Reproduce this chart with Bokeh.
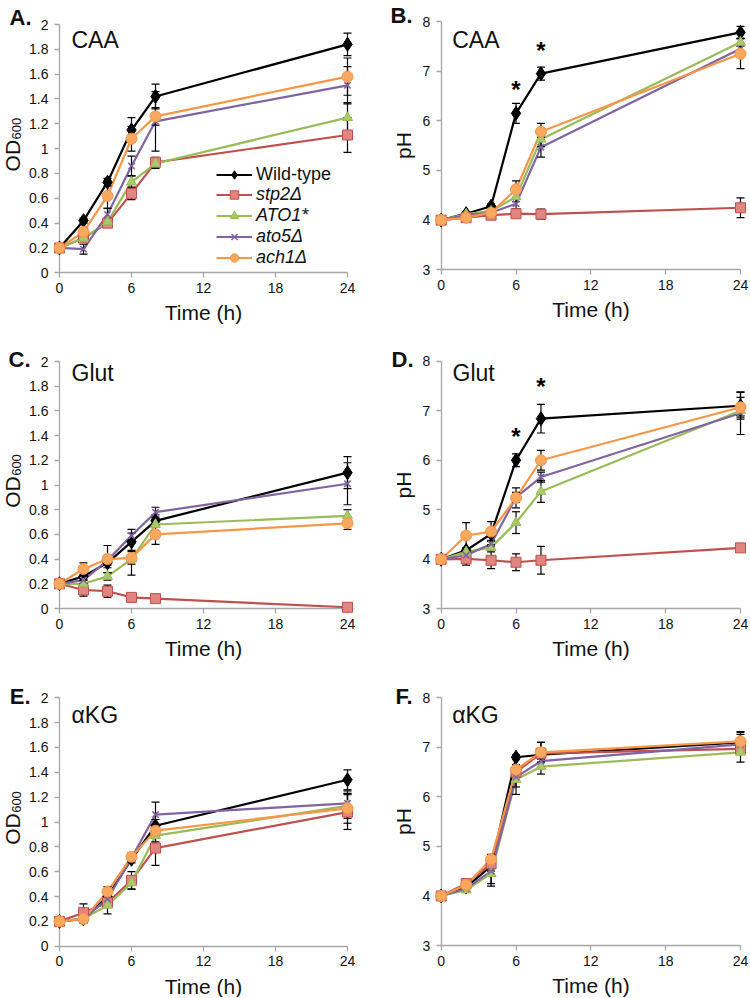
import math
from bokeh.plotting import figure
from bokeh.models import (Range1d, FixedTicker, NumeralTickFormatter, Legend,
                          LegendItem, Label)
from bokeh.layouts import row, column
from bokeh.embed import file_html
from bokeh.resources import INLINE
from bokeh.core.properties import value

FONT = "Liberation Sans"

# ---------------- data ----------------
times = [0, 2, 4, 6, 8, 24]
strains = ["Wild-type", "stp2Δ", "ATO1*", "ato5Δ", "ach1Δ"]
x_ticks = [0, 6, 12, 18, 24]
od_ticks = [0, 0.2, 0.4, 0.6, 0.8, 1, 1.2, 1.4, 1.6, 1.8, 2]
ph_ticks = [3, 4, 5, 6, 7, 8]

# A. CAA, OD600
caa_od_wt = [0.20, 0.42, 0.73, 1.15, 1.42, 1.84]
caa_od_stp2 = [0.20, 0.28, 0.40, 0.64, 0.89, 1.11]
caa_od_ato1 = [0.20, 0.28, 0.41, 0.73, 0.88, 1.25]
caa_od_ato5 = [0.20, 0.19, 0.47, 0.86, 1.22, 1.51]
caa_od_ach1 = [0.20, 0.33, 0.62, 1.08, 1.26, 1.58]
caa_od_wt_err = [0.01, 0.02, 0.03, 0.10, 0.10, 0.09]
caa_od_stp2_err = [0.01, 0.02, 0.03, 0.05, 0.04, 0.14]
caa_od_ato1_err = [0.01, 0.02, 0.03, 0.05, 0.04, 0.12]
caa_od_ato5_err = [0.01, 0.04, 0.05, 0.08, 0.24, 0.15]
caa_od_ach1_err = [0.01, 0.03, 0.10, 0.10, 0.07, 0.15]

# B. CAA, pH
caa_ph_wt = [4.00, 4.13, 4.28, 6.15, 6.95, 7.78]
caa_ph_stp2 = [4.00, 4.05, 4.10, 4.13, 4.12, 4.25]
caa_ph_ato1 = [4.00, 4.12, 4.18, 4.47, 5.63, 7.58]
caa_ph_ato5 = [4.00, 4.10, 4.15, 4.33, 5.47, 7.45]
caa_ph_ach1 = [4.00, 4.05, 4.15, 4.62, 5.78, 7.35]
caa_ph_wt_err = [0.02, 0.03, 0.05, 0.20, 0.13, 0.12]
caa_ph_stp2_err = [0.02, 0.03, 0.04, 0.05, 0.10, 0.20]
caa_ph_ato1_err = [0.02, 0.03, 0.04, 0.10, 0.15, 0.08]
caa_ph_ato5_err = [0.02, 0.03, 0.04, 0.10, 0.20, 0.10]
caa_ph_ach1_err = [0.02, 0.03, 0.04, 0.17, 0.17, 0.30]
caa_star_x = [6, 8]
caa_star_y = [6.75, 7.54]

# C. Glut, OD600
glut_od_wt = [0.20, 0.26, 0.37, 0.54, 0.71, 1.10]
glut_od_stp2 = [0.20, 0.15, 0.14, 0.09, 0.08, 0.01]
glut_od_ato1 = [0.20, 0.20, 0.26, 0.40, 0.68, 0.75]
glut_od_ato5 = [0.20, 0.23, 0.39, 0.59, 0.78, 1.01]
glut_od_ach1 = [0.20, 0.32, 0.40, 0.41, 0.60, 0.69]
glut_od_wt_err = [0.01, 0.03, 0.04, 0.07, 0.05, 0.13]
glut_od_stp2_err = [0.01, 0.05, 0.05, 0.02, 0.02, 0.01]
glut_od_ato1_err = [0.01, 0.03, 0.03, 0.13, 0.05, 0.05]
glut_od_ato5_err = [0.01, 0.03, 0.04, 0.05, 0.04, 0.17]
glut_od_ach1_err = [0.01, 0.05, 0.11, 0.05, 0.08, 0.05]

# D. Glut, pH
glut_ph_wt = [4.00, 4.18, 4.51, 6.00, 6.84, 7.10]
glut_ph_stp2 = [4.00, 4.01, 3.98, 3.94, 3.98, 4.23]
glut_ph_ato1 = [4.00, 4.15, 4.24, 4.74, 5.37, 7.00]
glut_ph_ato5 = [4.00, 4.08, 4.31, 5.25, 5.66, 6.95]
glut_ph_ach1 = [4.00, 4.48, 4.56, 5.24, 6.00, 7.07]
glut_ph_wt_err = [0.02, 0.05, 0.13, 0.13, 0.29, 0.27]
glut_ph_stp2_err = [0.02, 0.13, 0.17, 0.17, 0.28, 0.03]
glut_ph_ato1_err = [0.02, 0.05, 0.05, 0.22, 0.22, 0.10]
glut_ph_ato5_err = [0.02, 0.05, 0.05, 0.10, 0.10, 0.43]
glut_ph_ach1_err = [0.02, 0.26, 0.20, 0.20, 0.20, 0.20]
glut_star_x = [6, 8]
glut_star_y = [6.60, 7.61]

# E. aKG, OD600
akg_od_wt = [0.20, 0.22, 0.40, 0.70, 0.97, 1.34]
akg_od_stp2 = [0.20, 0.27, 0.35, 0.53, 0.79, 1.08]
akg_od_ato1 = [0.20, 0.22, 0.33, 0.51, 0.89, 1.13]
akg_od_ato5 = [0.20, 0.22, 0.38, 0.71, 1.06, 1.15]
akg_od_ach1 = [0.20, 0.22, 0.44, 0.72, 0.93, 1.11]
akg_od_wt_err = [0.01, 0.03, 0.06, 0.03, 0.05, 0.08]
akg_od_stp2_err = [0.01, 0.07, 0.03, 0.07, 0.14, 0.14]
akg_od_ato1_err = [0.01, 0.03, 0.07, 0.05, 0.05, 0.10]
akg_od_ato5_err = [0.01, 0.03, 0.04, 0.03, 0.10, 0.10]
akg_od_ach1_err = [0.01, 0.03, 0.04, 0.03, 0.05, 0.12]

# F. aKG, pH
akg_ph_wt = [4.00, 4.18, 4.60, 6.80, 6.85, 7.10]
akg_ph_stp2 = [4.00, 4.25, 4.65, 6.50, 6.88, 6.97]
akg_ph_ato1 = [4.00, 4.12, 4.45, 6.35, 6.61, 6.90]
akg_ph_ato5 = [4.00, 4.15, 4.50, 6.40, 6.72, 7.06]
akg_ph_ach1 = [4.00, 4.22, 4.74, 6.55, 6.90, 7.12]
akg_ph_wt_err = [0.03, 0.05, 0.10, 0.05, 0.25, 0.20]
akg_ph_stp2_err = [0.03, 0.05, 0.10, 0.10, 0.10, 0.10]
akg_ph_ato1_err = [0.03, 0.05, 0.25, 0.30, 0.15, 0.20]
akg_ph_ato5_err = [0.03, 0.05, 0.25, 0.20, 0.15, 0.20]
akg_ph_ach1_err = [0.03, 0.05, 0.10, 0.10, 0.20, 0.20]

# ---------------- styles / layout ----------------
STYLES = [
    dict(color="#000000", marker="diamond", fill="#000000", size=14),
    dict(color="#C0504D", marker="square", fill="#E0857F", size=10),
    dict(color="#9BBB59", marker="triangle", fill="#A9C96B", size=10),
    dict(color="#8064A2", marker="x", fill=None, size=9),
    dict(color="#F79646", marker="circle", fill="#F9A85F", size=11),
]
AXIS_GREY = "#A6A6A6"
TXT = "#111111"

# figure boxes on the page: (left, top, width, height)
FIG_BOX = {
    "A": (0, 0, 375, 330), "B": (375, 0, 375, 330),
    "C": (0, 330, 375, 330), "D": (375, 330, 375, 330),
    "E": (0, 660, 375, 337), "F": (375, 660, 375, 337),
}
# plot area in page pixels: (x of t=0, x of t=24, y of top value, y of bottom value)
PLOT_PX = {
    "A": (59, 347, 24, 272.3), "B": (440.7, 740, 21, 269.3),
    "C": (59, 347, 361, 608), "D": (440.7, 740, 360.7, 608.3),
    "E": (59, 347, 697.3, 945.7), "F": (440.7, 740, 697.3, 945),
}
# text anchors on the page
LETTER_XY = {"A": (31, 17), "B": (412, 15), "C": (30, 358.5), "D": (413, 359),
             "E": (30, 696), "F": (412, 696)}
TITLE_XY = {"A": (71, 39.5), "B": (451.7, 39), "C": (71, 372.5), "D": (452, 372.5),
            "E": (71, 714.5), "F": (451.7, 714.5)}


def make_panel(key, title, kind, series, errs, stars=None, legend=False):
    fl, ft, W, H = FIG_BOX[key]
    px0, px24, pytop, pybot = PLOT_PX[key]
    y0, y1 = (0, 2) if kind == "od" else (3, 8)
    # frame = whole canvas; ranges chosen so the axes sit where they do in the original
    sx = (px24 - px0) / 24.0
    sy = (pybot - pytop) / (y1 - y0)
    cx0, cyt, cyb = px0 - fl, pytop - ft, pybot - ft
    x_start, x_end = -cx0 / sx, (W - cx0) / sx
    y_end, y_start = y1 + cyt / sy, y0 - (H - cyb) / sy

    def to_data(px, py):
        return (px - fl - cx0) / sx, y1 - (py - ft - cyt) / sy

    p = figure(width=W, height=H,
               x_range=Range1d(x_start, x_end), y_range=Range1d(y_start, y_end),
               output_backend="svg", toolbar_location=None,
               min_border=0, min_border_left=0, min_border_right=0,
               min_border_top=0, min_border_bottom=0,
               outline_line_color=None, background_fill_color="white",
               border_fill_color="white")
    p.xgrid.visible = False
    p.ygrid.visible = False

    for ax in (p.xaxis[0], p.yaxis[0]):
        ax.level = "underlay"
        ax.axis_line_color = AXIS_GREY
        ax.axis_line_width = 1.3
        ax.major_tick_line_color = AXIS_GREY
        ax.major_tick_line_width = 1.3
        ax.major_tick_out = 5
        ax.major_tick_in = 0
        ax.minor_tick_line_color = None
        ax.major_label_text_font = FONT
        ax.major_label_text_font_size = "14px"
        ax.major_label_text_color = TXT
        ax.axis_label_text_font = FONT
        ax.axis_label_text_font_size = "21px"
        ax.axis_label_text_font_style = "normal"
        ax.axis_label_text_color = TXT

    xa = p.xaxis[0]
    xa.fixed_location = y0
    xa.ticker = FixedTicker(ticks=x_ticks)
    xa.bounds = (0, 24)
    xa.major_label_standoff = 5
    xa.axis_label = "Time (h)"
    xa.axis_label_standoff = 5

    ya = p.yaxis[0]
    ya.fixed_location = 0
    ya.bounds = (y0, y1)
    ya.major_label_standoff = 6
    if kind == "od":
        ya.ticker = FixedTicker(ticks=od_ticks)
        ya.formatter = NumeralTickFormatter(format="0.[0]")
    else:
        ya.ticker = FixedTicker(ticks=ph_ticks)
        ya.axis_label = "pH"
        ya.axis_label_standoff = 5

    line_rs, mark_rs = [], []
    for vals, st in zip(series, STYLES):
        lr = p.line(times, vals, line_color=st["color"], line_width=2.2)
        line_rs.append(lr)

    # error bars (black, as in the original)
    for vals, err in zip(series, errs):
        lo = [v - e for v, e in zip(vals, err)]
        hi = [v + e for v, e in zip(vals, err)]
        p.segment(x0=times, y0=lo, x1=times, y1=hi, line_color="black", line_width=1.2)
        p.scatter(x=times + times, y=lo + hi, marker="dash", size=8,
                  line_color="black", line_width=1.2)

    for vals, st in zip(series, STYLES):
        if st["fill"] is None:
            mr = p.scatter(times, vals, marker=st["marker"], size=st["size"],
                           line_color=st["color"], line_width=1.6)
        else:
            mr = p.scatter(times, vals, marker=st["marker"], size=st["size"],
                           fill_color=st["fill"], line_color=st["color"], line_width=1)
        mark_rs.append(mr)

    if stars is not None:
        p.text(x=stars[0], y=stars[1], text=["*"] * len(stars[0]),
               text_font=value(FONT), text_font_size="24px", text_font_style="bold",
               text_align="center", text_baseline="middle", y_offset=6, text_color="black")

    def label(px, py, text, **kw):
        x, y = to_data(px, py)
        p.add_layout(Label(x=x, y=y, text=text, text_font=FONT, text_color=TXT, **kw))

    tx, ty = TITLE_XY[key]
    label(tx, ty, title, text_font_size="23px", text_align="left", text_baseline="middle")
    lx, ly = LETTER_XY[key]
    label(lx, ly, key + ".", text_font_size="22px", text_font_style="bold",
          text_align="right", text_baseline="middle")
    if kind == "od":
        fmid = (pytop + pybot) / 2
        label(px0 - 47, fmid + 7, "OD", text_font_size="21px", angle=math.pi / 2,
              text_align="center", text_baseline="alphabetic")
        label(px0 - 43, fmid - 20, "600", text_font_size="13px", angle=math.pi / 2,
              text_align="center", text_baseline="alphabetic")

    if legend:
        common = dict(border_line_color=None, background_fill_alpha=0, padding=0, margin=0,
                      spacing=0, label_standoff=4, glyph_width=36, glyph_height=21,
                      label_height=21, label_text_font=FONT, label_text_font_size="18px",
                      label_text_color=TXT)
        # location: pixels from the left / bottom of the canvas
        lg1 = Legend(items=[LegendItem(label=strains[0], renderers=[line_rs[0], mark_rs[0]])],
                     location=(216 - fl, H - (184.5 - ft)), label_text_font_style="normal",
                     **common)
        lg2 = Legend(items=[LegendItem(label=strains[i], renderers=[line_rs[i], mark_rs[i]])
                            for i in range(1, 5)],
                     location=(216 - fl, H - (267.5 - ft)), label_text_font_style="italic",
                     **common)
        p.add_layout(lg1)
        p.add_layout(lg2)
    return p


pA = make_panel("A", "CAA", "od",
                [caa_od_wt, caa_od_stp2, caa_od_ato1, caa_od_ato5, caa_od_ach1],
                [caa_od_wt_err, caa_od_stp2_err, caa_od_ato1_err, caa_od_ato5_err, caa_od_ach1_err],
                legend=True)
pB = make_panel("B", "CAA", "ph",
                [caa_ph_wt, caa_ph_stp2, caa_ph_ato1, caa_ph_ato5, caa_ph_ach1],
                [caa_ph_wt_err, caa_ph_stp2_err, caa_ph_ato1_err, caa_ph_ato5_err, caa_ph_ach1_err],
                stars=(caa_star_x, caa_star_y))
pC = make_panel("C", "Glut", "od",
                [glut_od_wt, glut_od_stp2, glut_od_ato1, glut_od_ato5, glut_od_ach1],
                [glut_od_wt_err, glut_od_stp2_err, glut_od_ato1_err, glut_od_ato5_err, glut_od_ach1_err])
pD = make_panel("D", "Glut", "ph",
                [glut_ph_wt, glut_ph_stp2, glut_ph_ato1, glut_ph_ato5, glut_ph_ach1],
                [glut_ph_wt_err, glut_ph_stp2_err, glut_ph_ato1_err, glut_ph_ato5_err, glut_ph_ach1_err],
                stars=(glut_star_x, glut_star_y))
pE = make_panel("E", "αKG", "od",
                [akg_od_wt, akg_od_stp2, akg_od_ato1, akg_od_ato5, akg_od_ach1],
                [akg_od_wt_err, akg_od_stp2_err, akg_od_ato1_err, akg_od_ato5_err, akg_od_ach1_err])
pF = make_panel("F", "αKG", "ph",
                [akg_ph_wt, akg_ph_stp2, akg_ph_ato1, akg_ph_ato5, akg_ph_ach1],
                [akg_ph_wt_err, akg_ph_stp2_err, akg_ph_ato1_err, akg_ph_ato5_err, akg_ph_ach1_err])

layout = column(row(pA, pB), row(pC, pD), row(pE, pF))
open("out.html", "w").write(file_html(layout, INLINE))
